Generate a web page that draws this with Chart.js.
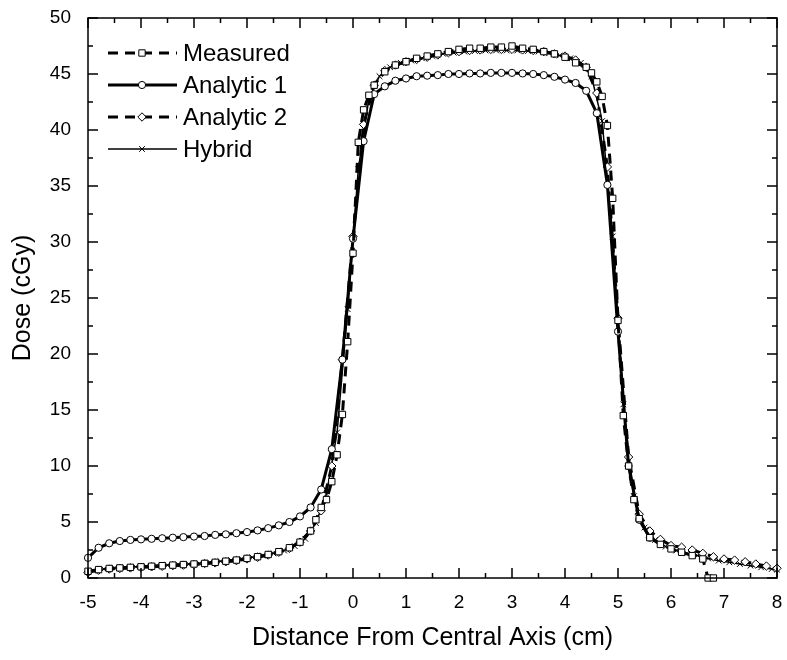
<!DOCTYPE html>
<html>
<head>
<meta charset="utf-8">
<script src="https://cdn.jsdelivr.net/npm/chart.js@4/dist/chart.umd.min.js"></script>
<style>
  body { margin: 0; background: #fff; }
  #wrap { width: 787px; height: 660px; }
</style>
</head>
<body>
<div id="wrap"><canvas id="doseChart"></canvas></div>
<script>
// series names
var seriesNames = ['Measured', 'Analytic 1', 'Analytic 2', 'Hybrid'];

// Measured
var measX = [-5.0, -4.8, -4.6, -4.4, -4.2, -4.0, -3.8, -3.6, -3.4, -3.2, -3.0, -2.8, -2.6, -2.4, -2.2, -2.0, -1.8, -1.6, -1.4, -1.2, -1.0, -0.8, -0.7, -0.6, -0.5, -0.4, -0.3, -0.2, -0.1, 0.0, 0.1, 0.2, 0.3, 0.4, 0.6, 0.8, 1.0, 1.2, 1.4, 1.6, 1.8, 2.0, 2.2, 2.4, 2.6, 2.8, 3.0, 3.2, 3.4, 3.6, 3.8, 4.0, 4.2, 4.4, 4.5, 4.6, 4.7, 4.8, 4.9, 5.0, 5.1, 5.2, 5.3, 5.4, 5.6, 5.8, 6.0, 6.2, 6.4, 6.6, 6.7, 6.8];
var measY = [0.6, 0.75, 0.85, 0.9, 0.95, 1.0, 1.05, 1.1, 1.15, 1.2, 1.25, 1.3, 1.4, 1.5, 1.6, 1.75, 1.9, 2.1, 2.35, 2.7, 3.2, 4.2, 5.2, 6.3, 7.0, 8.6, 11.0, 14.6, 21.1, 29.0, 38.9, 41.8, 43.1, 44.0, 45.2, 45.8, 46.1, 46.4, 46.6, 46.8, 47.0, 47.2, 47.3, 47.3, 47.4, 47.4, 47.5, 47.3, 47.2, 47.0, 46.8, 46.5, 46.0, 45.6, 45.1, 44.3, 43.0, 40.4, 33.9, 23.0, 14.5, 10.0, 7.0, 5.3, 3.6, 3.0, 2.6, 2.3, 2.0, 1.7, 0.0, 0.0];

// Analytic 1
var an1X = [-5.0, -4.8, -4.6, -4.4, -4.2, -4.0, -3.8, -3.6, -3.4, -3.2, -3.0, -2.8, -2.6, -2.4, -2.2, -2.0, -1.8, -1.6, -1.4, -1.2, -1.0, -0.8, -0.6, -0.4, -0.2, 0.0, 0.2, 0.4, 0.6, 0.8, 1.0, 1.2, 1.4, 1.6, 1.8, 2.0, 2.2, 2.4, 2.6, 2.8, 3.0, 3.2, 3.4, 3.6, 3.8, 4.0, 4.2, 4.4, 4.6, 4.8, 5.0, 5.2, 5.4, 5.6];
var an1Y = [1.8, 2.7, 3.1, 3.3, 3.4, 3.45, 3.5, 3.55, 3.6, 3.65, 3.7, 3.75, 3.85, 3.9, 4.0, 4.1, 4.25, 4.45, 4.7, 5.0, 5.5, 6.3, 7.9, 11.5, 19.5, 30.3, 39.0, 43.2, 43.9, 44.4, 44.6, 44.8, 44.85, 44.9, 45.0, 45.0, 45.05, 45.05, 45.1, 45.1, 45.1, 45.05, 45.0, 44.9, 44.75, 44.5, 44.2, 43.5, 41.5, 35.1, 22.0, 10.0, 5.2, 3.6];

// Analytic 2
var an2X = [-5.0, -4.8, -4.6, -4.4, -4.2, -4.0, -3.8, -3.6, -3.4, -3.2, -3.0, -2.8, -2.6, -2.4, -2.2, -2.0, -1.8, -1.6, -1.4, -1.2, -1.0, -0.8, -0.6, -0.4, -0.2, 0.0, 0.2, 0.4, 0.6, 0.8, 1.0, 1.2, 1.4, 1.6, 1.8, 2.0, 2.2, 2.4, 2.6, 2.8, 3.0, 3.2, 3.4, 3.6, 3.8, 4.0, 4.2, 4.4, 4.6, 4.8, 5.0, 5.2, 5.4, 5.6, 5.8, 6.0, 6.2, 6.4, 6.6, 6.8, 7.0, 7.2, 7.4, 7.6, 7.8, 8.0];
var an2Y = [0.5, 0.7, 0.8, 0.85, 0.9, 0.95, 1.0, 1.05, 1.1, 1.15, 1.2, 1.3, 1.35, 1.45, 1.55, 1.7, 1.85, 2.05, 2.3, 2.65, 3.2, 4.2, 6.0, 10.0, 19.5, 30.5, 40.5, 44.0, 45.3, 45.8, 46.1, 46.3, 46.5, 46.7, 46.9, 47.0, 47.1, 47.15, 47.2, 47.2, 47.2, 47.15, 47.1, 47.0, 46.8, 46.6, 46.25, 45.6, 43.3, 36.7, 23.2, 10.8, 5.7, 4.2, 3.45, 2.9, 2.75, 2.5, 2.2, 1.9, 1.7, 1.6, 1.45, 1.25, 1.07, 0.87];

// Hybrid
var hybX = [-4.9, -4.7, -4.5, -4.3, -4.1, -3.9, -3.7, -3.5, -3.3, -3.1, -2.9, -2.7, -2.5, -2.3, -2.1, -1.9, -1.7, -1.5, -1.3, -1.1, -0.9, -0.7, -0.5, -0.3, -0.1, 0.1, 0.3, 0.5, 0.7, 0.9, 1.1, 1.3, 1.5, 1.7, 1.9, 2.1, 2.3, 2.5, 2.7, 2.9, 3.1, 3.3, 3.5, 3.7, 3.9, 4.1, 4.3, 4.5, 4.7, 4.9, 5.1, 5.3, 5.5, 5.7, 5.9, 6.1, 6.3, 6.5, 6.7, 6.9, 7.1, 7.3, 7.5, 7.7, 7.9, 8.0];
var hybY = [0.65, 0.8, 0.9, 0.95, 1.0, 1.05, 1.1, 1.15, 1.2, 1.25, 1.3, 1.4, 1.5, 1.6, 1.7, 1.85, 2.0, 2.2, 2.45, 2.85, 3.5, 4.9, 7.5, 13.0, 24.0, 36.5, 42.8, 44.8, 45.6, 46.0, 46.2, 46.4, 46.6, 46.8, 46.9, 47.0, 47.05, 47.1, 47.1, 47.1, 47.1, 47.05, 47.0, 46.85, 46.65, 46.4, 46.0, 44.8, 40.8, 30.5, 15.5, 7.3, 4.5, 3.4, 2.8, 2.45, 2.2, 2.0, 1.75, 1.55, 1.4, 1.25, 1.1, 0.95, 0.8, 0.75];

var FONT = "'Liberation Sans', Arial, sans-serif";

function toPoints(xs, ys) {
    var pts = [];
    for (var i = 0; i < xs.length; i++) pts.push({x: xs[i], y: ys[i]});
    return pts;
}

// frame, inward major/minor ticks and legend
var frameTicks = {
    id: 'frameTicks',
    afterDraw: function (chart) {
        var ctx = chart.ctx, a = chart.chartArea;
        var xs = chart.scales.x, ys = chart.scales.y;
        ctx.save();
        ctx.strokeStyle = '#000';
        ctx.lineWidth = 1.5;
        ctx.strokeRect(a.left, a.top, a.right - a.left, a.bottom - a.top);
        ctx.beginPath();
        for (var v = -5; v <= 8; v += 0.5) {
            var px = xs.getPixelForValue(v);
            var len = (v % 1 === 0) ? 10 : 5;
            ctx.moveTo(px, a.bottom); ctx.lineTo(px, a.bottom - len);
            ctx.moveTo(px, a.top); ctx.lineTo(px, a.top + len);
        }
        for (var w = 0; w <= 50; w += 2.5) {
            var py = ys.getPixelForValue(w);
            var l2 = (w % 5 === 0) ? 10 : 5;
            ctx.moveTo(a.left, py); ctx.lineTo(a.left + l2, py);
            ctx.moveTo(a.right, py); ctx.lineTo(a.right - l2, py);
        }
        ctx.stroke();

        // legend
        chart.data.datasets.forEach(function (ds, i) {
            var y = 53 + 32 * i;
            ctx.beginPath();
            ctx.setLineDash(ds.borderDash || []);
            ctx.lineWidth = ds.borderWidth;
            ctx.moveTo(108, y); ctx.lineTo(177, y);
            ctx.stroke();
            ctx.setLineDash([]);
            ctx.lineWidth = 1;
            ctx.fillStyle = '#fff';
            Chart.helpers.drawPoint(ctx, {pointStyle: ds.pointStyle, radius: ds.pointRadius, rotation: 0, borderWidth: 1}, 142, y);
            ctx.fillStyle = '#000';
            ctx.font = '24px ' + FONT;
            ctx.textBaseline = 'middle';
            ctx.fillText(ds.label, 183, y + 1);
        });
        ctx.restore();
    }
};

var ctx = document.getElementById('doseChart');
new Chart(ctx, {
    type: 'line',
    data: {
        datasets: [
            {label: seriesNames[0], data: toPoints(measX, measY), borderColor: '#000', borderWidth: 3, borderDash: [10, 7],
             pointStyle: 'rect', pointRadius: 4.5, pointBackgroundColor: '#fff', pointBorderColor: '#000', pointBorderWidth: 1, order: 0},
            {label: seriesNames[1], data: toPoints(an1X, an1Y), borderColor: '#000', borderWidth: 3,
             pointStyle: 'circle', pointRadius: 3.6, pointBackgroundColor: '#fff', pointBorderColor: '#000', pointBorderWidth: 1, order: 1},
            {label: seriesNames[2], data: toPoints(an2X, an2Y), borderColor: '#000', borderWidth: 3, borderDash: [10, 7],
             pointStyle: 'rectRot', pointRadius: 4.2, pointBackgroundColor: '#fff', pointBorderColor: '#000', pointBorderWidth: 1, order: 2},
            {label: seriesNames[3], data: toPoints(hybX, hybY), borderColor: '#000', borderWidth: 1.5,
             pointStyle: 'crossRot', pointRadius: 4, pointBackgroundColor: '#fff', pointBorderColor: '#000', pointBorderWidth: 1, order: 3}
        ]
    },
    options: {
        responsive: true,
        maintainAspectRatio: false,
        animation: false,
        layout: {padding: {top: 18, right: 10, left: 0, bottom: 0}},
        elements: {line: {tension: 0, fill: false}},
        datasets: {line: {clip: false}},
        plugins: {legend: {display: false}, tooltip: {enabled: false}},
        scales: {
            x: {
                type: 'linear', min: -5, max: 8,
                ticks: {stepSize: 1, color: '#000', padding: 13, maxRotation: 0, font: {family: FONT, size: 19}},
                grid: {display: false, drawTicks: false},
                border: {display: false},
                title: {display: true, text: 'Distance From Central Axis (cm)', color: '#000',
                        font: {family: FONT, size: 25}, padding: {top: 4, bottom: 7}},
                afterFit: function (s) { s.height = 82; s.paddingLeft = 0; s.paddingRight = 0; }
            },
            y: {
                min: 0, max: 50,
                ticks: {stepSize: 5, color: '#000', padding: 17, font: {family: FONT, size: 19}},
                grid: {display: false, drawTicks: false},
                border: {display: false},
                title: {display: true, text: 'Dose (cGy)', color: '#000',
                        font: {family: FONT, size: 25}, padding: {top: 8, bottom: 4}},
                afterFit: function (s) { s.width = 88; s.paddingTop = 0; s.paddingBottom = 0; }
            }
        }
    },
    plugins: [frameTicks]
});
</script>
</body>
</html>
